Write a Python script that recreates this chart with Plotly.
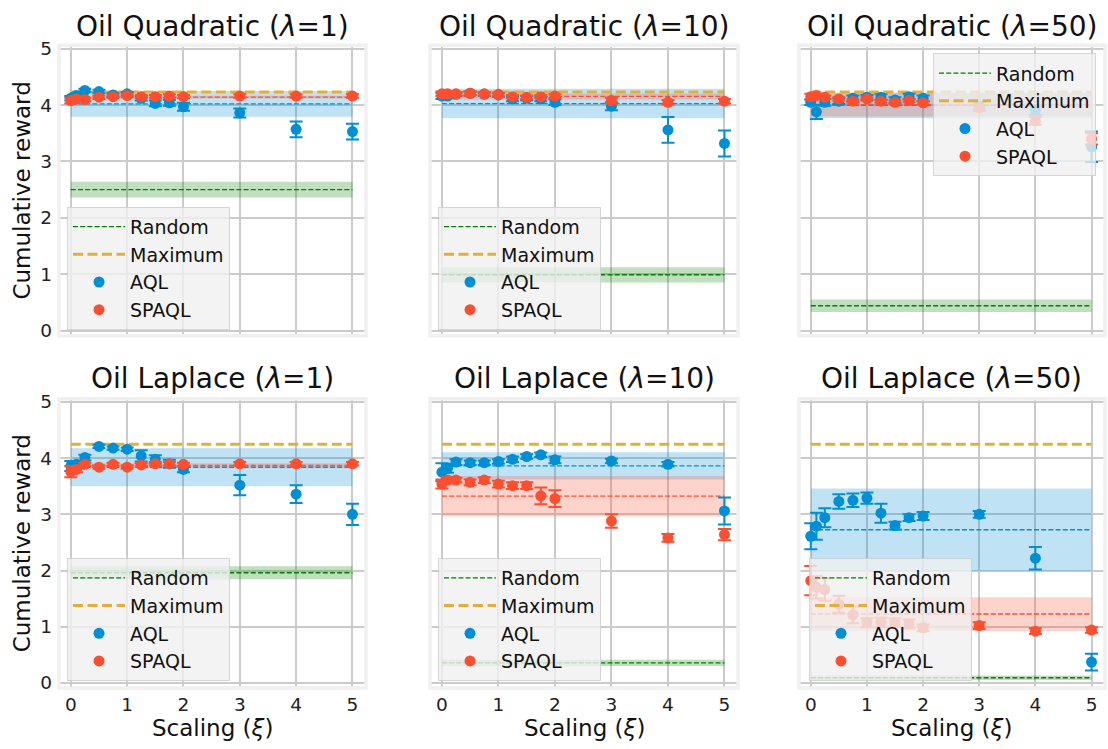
import numpy as np
import plotly.graph_objects as go

# Scaling values (xi) at which both agents were evaluated
xi = [0, 0.1, 0.25, 0.5, 0.75, 1, 1.25, 1.5, 1.75, 2, 3, 4, 5]

panel_titles = [
    "Oil Quadratic (<i>λ</i>=1)", "Oil Quadratic (<i>λ</i>=10)", "Oil Quadratic (<i>λ</i>=50)",
    "Oil Laplace (<i>λ</i>=1)", "Oil Laplace (<i>λ</i>=10)", "Oil Laplace (<i>λ</i>=50)",
]

# Oil Quadratic, lambda = 1
quad1_aql = [4.12, 4.17, 4.26, 4.24, 4.18, 4.20, 4.12, 4.03, 4.04, 3.97, 3.86, 3.57, 3.53]
quad1_aql_err = [0.04, 0.04, 0.03, 0.03, 0.03, 0.03, 0.04, 0.05, 0.05, 0.07, 0.08, 0.14, 0.14]
quad1_spaql = [4.08, 4.11, 4.10, 4.14, 4.15, 4.17, 4.15, 4.15, 4.16, 4.15, 4.16, 4.16, 4.16]
quad1_spaql_err = [0.05, 0.03, 0.03, 0.03, 0.03, 0.03, 0.03, 0.03, 0.03, 0.03, 0.03, 0.03, 0.03]

# Oil Quadratic, lambda = 10
quad10_aql = [4.16, 4.16, 4.19, 4.21, 4.19, 4.18, 4.11, 4.12, 4.11, 4.05, 3.98, 3.56, 3.32]
quad10_aql_err = [0.05, 0.04, 0.03, 0.03, 0.03, 0.03, 0.04, 0.04, 0.04, 0.05, 0.07, 0.23, 0.23]
quad10_spaql = [4.20, 4.20, 4.20, 4.21, 4.20, 4.19, 4.15, 4.14, 4.15, 4.16, 4.08, 4.05, 4.07]
quad10_spaql_err = [0.04, 0.03, 0.03, 0.03, 0.03, 0.03, 0.03, 0.03, 0.03, 0.03, 0.05, 0.04, 0.04]

# Oil Quadratic, lambda = 50
quad50_aql = [4.05, 3.88, 4.05, 4.07, 4.12, 4.14, 4.14, 4.09, 4.15, 4.12, 3.98, 3.91, 3.26]
quad50_aql_err = [0.05, 0.125, 0.06, 0.05, 0.05, 0.04, 0.05, 0.05, 0.05, 0.05, 0.07, 0.08, 0.27]
quad50_spaql = [4.15, 4.17, 4.14, 4.11, 4.07, 4.11, 4.07, 4.05, 4.08, 4.04, 3.95, 3.72, 3.40]
quad50_spaql_err = [0.05, 0.03, 0.03, 0.03, 0.03, 0.03, 0.03, 0.03, 0.03, 0.03, 0.05, 0.07, 0.10]

# Oil Laplace, lambda = 1
lap1_aql = [3.86, 3.89, 4.01, 4.21, 4.18, 4.16, 4.04, 3.98, 3.90, 3.80, 3.52, 3.36, 3.00]
lap1_aql_err = [0.09, 0.06, 0.05, 0.03, 0.03, 0.03, 0.10, 0.07, 0.07, 0.05, 0.18, 0.16, 0.19]
lap1_spaql = [3.76, 3.80, 3.89, 3.84, 3.89, 3.84, 3.88, 3.90, 3.90, 3.89, 3.90, 3.90, 3.90]
lap1_spaql_err = [0.10, 0.05, 0.03, 0.03, 0.03, 0.03, 0.03, 0.03, 0.03, 0.03, 0.03, 0.03, 0.03]

# Oil Laplace, lambda = 10
lap10_aql = [3.75, 3.82, 3.93, 3.92, 3.92, 3.94, 3.98, 4.03, 4.06, 3.97, 3.95, 3.89, 3.06]
lap10_aql_err = [0.16, 0.08, 0.05, 0.04, 0.04, 0.04, 0.05, 0.04, 0.04, 0.06, 0.04, 0.04, 0.24]
lap10_spaql = [3.54, 3.61, 3.61, 3.57, 3.61, 3.54, 3.51, 3.51, 3.33, 3.28, 2.88, 2.58, 2.64]
lap10_spaql_err = [0.08, 0.06, 0.04, 0.05, 0.05, 0.06, 0.06, 0.06, 0.15, 0.15, 0.12, 0.07, 0.10]

# Oil Laplace, lambda = 50
lap50_aql = [2.61, 2.79, 2.94, 3.23, 3.25, 3.29, 3.02, 2.80, 2.94, 2.97, 3.00, 2.22, 0.37]
lap50_aql_err = [0.23, 0.24, 0.17, 0.13, 0.12, 0.10, 0.17, 0.07, 0.06, 0.07, 0.06, 0.20, 0.15]
lap50_spaql = [1.82, 1.70, 1.66, 1.40, 1.21, 1.07, 1.08, 1.07, 1.05, 0.98, 1.02, 0.92, 0.94]
lap50_spaql_err = [0.26, 0.20, 0.20, 0.15, 0.15, 0.08, 0.08, 0.08, 0.08, 0.06, 0.06, 0.05, 0.05]

# Random-policy reward (mean, std) and maximum achievable reward per panel
random_mean = [2.50, 0.99, 0.44, 1.96, 0.355, 0.09]
random_std = [0.14, 0.135, 0.11, 0.115, 0.055, 0.04]
maximum_reward = [4.23, 4.23, 4.23, 4.25, 4.25, 4.25]

aql_series = [quad1_aql, quad10_aql, quad50_aql, lap1_aql, lap10_aql, lap50_aql]
aql_errors = [quad1_aql_err, quad10_aql_err, quad50_aql_err, lap1_aql_err, lap10_aql_err, lap50_aql_err]
spaql_series = [quad1_spaql, quad10_spaql, quad50_spaql, lap1_spaql, lap10_spaql, lap50_spaql]
spaql_errors = [quad1_spaql_err, quad10_spaql_err, quad50_spaql_err, lap1_spaql_err, lap10_spaql_err, lap50_spaql_err]

BLUE = "#008fd5"
RED = "#fc4f30"
GOLD = "#e5ae38"
GREEN = "#008000"
FONT = "DejaVu Sans"

col_dom = [(0.0532, 0.3303), (0.3881, 0.6661), (0.7211, 0.9973)]
row_dom = [(0.554, 0.948), (0.0761, 0.4686)]
# legend top-left corners in pixels
legend_px = [(67, 203), (438, 203), (933, 47), (67, 560), (438, 560), (809, 560)]

W, H = 1108, 749
fig = go.Figure()
xs_lo, xs_hi = min(xi), max(xi)


def band(xr, yr, lo, hi, color, legend):
    return go.Scatter(x=[xs_lo, xs_hi, xs_hi, xs_lo, xs_lo], y=[lo, lo, hi, hi, lo],
                      xaxis=xr, yaxis=yr, mode="lines", fill="toself", fillcolor=color,
                      line=dict(width=0), showlegend=False, hoverinfo="skip", legend=legend)


def hline(xr, yr, yv, color, width, dash, name, show, legend):
    return go.Scatter(x=[xs_lo, xs_hi], y=[yv, yv], xaxis=xr, yaxis=yr, mode="lines",
                      line=dict(color=color, width=width, dash=dash), name=name,
                      showlegend=show, legend=legend, hoverinfo="skip")


layout = {}
annotations = []
shapes = []
for k in range(6):
    r, c = divmod(k, 3)
    sfx = "" if k == 0 else str(k + 1)
    xr, yr = "x" + sfx, "y" + sfx
    lg = "legend" + sfx

    aql = np.array(aql_series[k])
    spaql = np.array(spaql_series[k])
    a_mean, a_std = aql.mean(), aql.std()
    s_mean, s_std = spaql.mean(), spaql.std()

    fig.add_trace(band(xr, yr, random_mean[k] - random_std[k], random_mean[k] + random_std[k],
                       "rgba(0,128,0,0.25)", lg))
    fig.add_trace(band(xr, yr, a_mean - a_std, a_mean + a_std, "rgba(0,143,213,0.25)", lg))
    fig.add_trace(band(xr, yr, s_mean - s_std, s_mean + s_std, "rgba(252,79,48,0.25)", lg))

    fig.add_trace(hline(xr, yr, random_mean[k], GREEN, 1.4, "5px,2.2px", "Random", True, lg))
    fig.add_trace(hline(xr, yr, maximum_reward[k], GOLD, 3, "10px,4.5px", "Maximum", True, lg))
    fig.add_trace(hline(xr, yr, a_mean, BLUE, 1.4, "5px,2.2px", "AQL mean", False, lg))
    fig.add_trace(hline(xr, yr, s_mean, RED, 1.4, "5px,2.2px", "SPAQL mean", False, lg))

    fig.add_trace(go.Scatter(x=xi, y=aql_series[k], xaxis=xr, yaxis=yr, mode="markers",
                             name="AQL", legend=lg,
                             marker=dict(color=BLUE, size=11),
                             error_y=dict(type="data", array=aql_errors[k], color=BLUE,
                                          thickness=2, width=6.5)))
    fig.add_trace(go.Scatter(x=xi, y=spaql_series[k], xaxis=xr, yaxis=yr, mode="markers",
                             name="SPAQL", legend=lg,
                             marker=dict(color=RED, size=11),
                             error_y=dict(type="data", array=spaql_errors[k], color=RED,
                                          thickness=2, width=6.5)))

    layout["xaxis" + sfx] = dict(
        domain=list(col_dom[c]), anchor=yr, range=[-0.21, 5.24],
        tickvals=[0, 1, 2, 3, 4, 5], showticklabels=(r == 1),
        showgrid=True, gridcolor="#cbcbcb", gridwidth=1.5, zeroline=False,
        showline=False, ticks="", ticklabelstandoff=4,
        tickfont=dict(family=FONT, size=18.5, color="#222"),
    )
    layout["yaxis" + sfx] = dict(
        domain=list(row_dom[r]), anchor=xr, range=[-0.09, 5.06],
        tickvals=[0, 1, 2, 3, 4, 5], showticklabels=(c == 0),
        showgrid=True, gridcolor="#cbcbcb", gridwidth=1.5, zeroline=False,
        showline=False, ticks="", ticklabelstandoff=6,
        tickfont=dict(family=FONT, size=18.5, color="#222"),
    )
    lx, ly = legend_px[k]
    layout[lg] = dict(
        x=lx / W, y=1 - ly / H, xanchor="left", yanchor="top",
        bgcolor="rgba(240,240,240,0.8)", bordercolor="rgba(204,204,204,0.8)", borderwidth=1,
        font=dict(family=FONT, size=19, color="#111"), tracegroupgap=2,
        itemwidth=52,
    )

    shapes.append(dict(type="rect", xref=xr + " domain", yref=yr + " domain",
                       x0=0, x1=1, y0=0, y1=1, line=dict(color="#f0f0f0", width=3.5),
                       layer="above"))

    cx = (col_dom[c][0] + col_dom[c][1]) / 2
    ty = 1 - (20 if r == 0 else 378) / H
    annotations.append(dict(text=panel_titles[k], x=cx, y=ty, xref="paper", yref="paper",
                            xanchor="center", yanchor="middle", showarrow=False,
                            font=dict(family=FONT, size=28, color="#111")))
    if r == 1:
        annotations.append(dict(text="Scaling (<i>ξ</i>)", x=cx, y=1 - 733 / H,
                                xref="paper", yref="paper", xanchor="center", yanchor="middle",
                                showarrow=False, font=dict(family=FONT, size=23, color="#111")))

for r, yc in enumerate([186.5, 545]):
    annotations.append(dict(text="Cumulative reward", x=22 / W, y=1 - yc / H,
                            xref="paper", yref="paper", xanchor="center", yanchor="middle",
                            textangle=-90, showarrow=False,
                            font=dict(family=FONT, size=23, color="#111")))

fig.update_layout(
    width=W, height=H, margin=dict(l=0, r=0, t=0, b=0),
    paper_bgcolor="white", plot_bgcolor="white",
    annotations=annotations, shapes=shapes, **layout,
)

fig.write_html("out.html")
